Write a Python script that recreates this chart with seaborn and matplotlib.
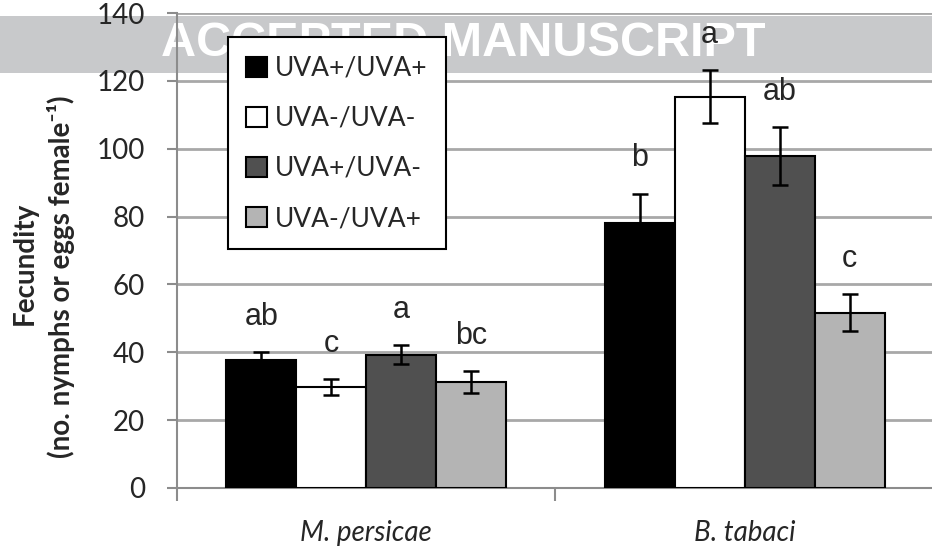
import numpy as np
import pandas as pd
import seaborn as sns
import matplotlib.pyplot as plt
from matplotlib.patches import Rectangle

# data
species = ["M. persicae", "B. tabaci"]
treatments = ["UVA+/UVA+", "UVA-/UVA-", "UVA+/UVA-", "UVA-/UVA+"]
# one list per treatment: [M. persicae, B. tabaci]
uva_pp = [37.6, 78.2]
uva_mm = [29.7, 115.4]
uva_pm = [39.2, 97.9]
uva_mp = [31.2, 51.7]
err_pp = [2.4, 8.6]
err_mm = [2.4, 7.8]
err_pm = [2.8, 8.5]
err_mp = [3.2, 5.4]
letters_pp = ["ab", "b"]
letters_mm = ["c", "a"]
letters_pm = ["a", "ab"]
letters_mp = ["bc", "c"]

values = [uva_pp, uva_mm, uva_pm, uva_mp]
errors = [err_pp, err_mm, err_pm, err_mp]
letters = [letters_pp, letters_mm, letters_pm, letters_mp]
colors = ["#000000", "#ffffff", "#505050", "#b4b4b4"]

rows = []
for t, vals in zip(treatments, values):
    for s, v in zip(species, vals):
        rows.append({"species": s, "treatment": t, "fecundity": v})
df = pd.DataFrame(rows)

sns.set_style("white")
plt.rcParams["font.family"] = ["Lato", "DejaVu Sans"]

fig = plt.figure(figsize=(9.32, 5.47), dpi=100)
ax = fig.add_axes([0.19, 0.108, 0.812, 0.868])
ax.set_facecolor("none")

# watermark band behind the axes
fig.patches.append(Rectangle((0, 1 - 73 / 547), 1, 57 / 547, transform=fig.transFigure,
                             facecolor="#c8c9cb", edgecolor="none", zorder=-10))
fig.text(0.497, 1 - 44 / 547, "ACCEPTED MANUSCRIPT", color="white", fontsize=35,
         fontweight="bold", family=["Liberation Sans", "DejaVu Sans"],
         ha="center", va="center", zorder=-9)

sns.barplot(data=df, x="species", y="fecundity", hue="treatment",
            hue_order=treatments, order=species, palette=colors, width=0.74,
            edgecolor="black", linewidth=1.5, errorbar=None, ax=ax, zorder=3)

for cont, errs, labs in zip(ax.containers, errors, letters):
    for bar, e, lab in zip(cont, errs, labs):
        cx = bar.get_x() + bar.get_width() / 2
        h = bar.get_height()
        ax.errorbar(cx, h, yerr=e, color="black", capsize=6, elinewidth=1.8,
                    capthick=1.8, zorder=4)
        ax.text(cx, h + e + 8, lab, ha="center", va="baseline", fontsize=22,
                family=["Liberation Sans", "DejaVu Sans"], zorder=5)

ax.set_ylim(0, 140)
ax.set_xlim(-0.5, 1.5)
ax.set_yticks(np.arange(0, 141, 20))
ax.yaxis.grid(True, color="#a8a8a8", linewidth=2)
ax.set_axisbelow(True)

ax.set_xticks([0, 1])
ax.set_xticklabels(species, fontstyle="italic", fontsize=20)
ax.set_xticks([-0.5, 0.5, 1.5], minor=True)
ax.tick_params(axis="x", which="major", length=0, pad=23)
ax.tick_params(axis="x", which="minor", direction="out", length=9, width=1.5,
               color="#8c8c8c", bottom=True)
ax.tick_params(axis="y", direction="out", length=7, width=1.5, color="#8c8c8c",
               labelsize=20, pad=16, left=True)

for side in ["top", "right"]:
    ax.spines[side].set_visible(False)
for side in ["left", "bottom"]:
    ax.spines[side].set_color("#8c8c8c")
    ax.spines[side].set_linewidth(1.5)

ax.set_xlabel("")
ax.set_ylabel("")
fig.text(0.027, 1 - 263 / 547, "Fecundity", rotation=90, fontsize=20,
         fontweight="bold", ha="center", va="center")
fig.text(0.065, 1 - 277 / 547, "(no. nymphs or eggs female\u207b\u00b9)", rotation=90,
         fontsize=20, fontweight="bold", ha="center", va="center")

leg = ax.legend(loc="upper left", bbox_to_anchor=(0.067, 0.949), borderaxespad=0,
                fontsize=19, frameon=True, fancybox=False, framealpha=1,
                edgecolor="black", handlelength=0.8, handleheight=0.8,
                handletextpad=0.3, labelspacing=0.95, borderpad=0.7)
leg.get_frame().set_linewidth(1.5)
leg.set_zorder(6)

fig.savefig("out.png", dpi=100)
